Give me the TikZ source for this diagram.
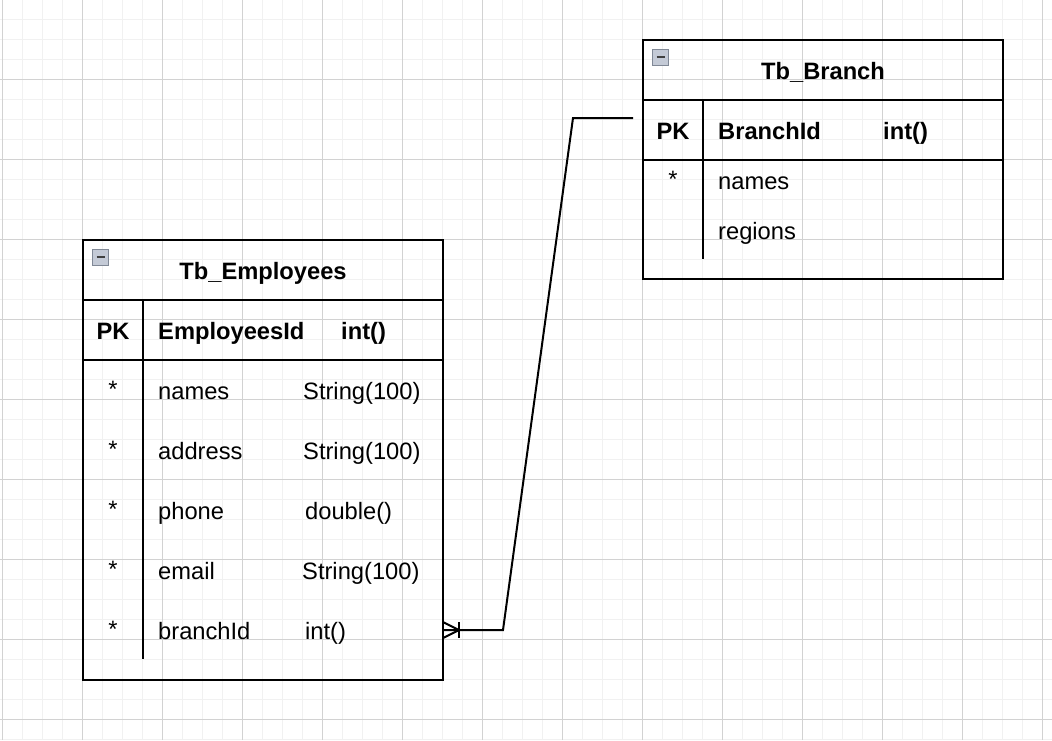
\documentclass[tikz,border=0pt]{standalone}
\usepackage{fontspec}
\setmainfont{Liberation Sans}
\usetikzlibrary{positioning}

\definecolor{gridlight}{RGB}{241,241,241}
\definecolor{griddark}{RGB}{210,210,210}
\definecolor{iconfill}{RGB}{196,202,214}
\definecolor{iconedge}{RGB}{128,136,150}

\tikzset{
  tablebox/.style={draw,line width=2pt,inner sep=0pt,outer sep=0pt,anchor=north west},
  rule/.style={line width=2pt},
  link/.style={line width=2pt,line join=miter},
  collapse/.style={draw=iconedge,fill=iconfill,line width=1pt,minimum size=16pt,inner sep=0pt,
    path picture={\draw[line width=2pt,black!75]
      ([xshift=4pt]path picture bounding box.west) -- ([xshift=-4pt]path picture bounding box.east);}},
}

\begin{document}
\begin{tikzpicture}[x=1pt,y=-1pt]
  \useasboundingbox (0,0) rectangle (1052,740);

  % background grid
  \begin{scope}[line width=1pt]
    \foreach \x in {2,22,...,1042} \draw[gridlight] (\x,0) -- (\x,740);
    \foreach \y in {19,39,...,739} \draw[gridlight] (0,\y) -- (1052,\y);
    \foreach \x in {2,82,...,1042} \draw[griddark] (\x,0) -- (\x,740);
    \foreach \y in {79,159,...,719} \draw[griddark] (0,\y) -- (1052,\y);
  \end{scope}

  % tables
  \node[tablebox,minimum width=360pt,minimum height=440pt] (emp) at (83,240) {};
  \node[tablebox,minimum width=360pt,minimum height=239pt] (br) at (643,40) {};

  \draw[rule] ([yshift=-60pt]emp.north west) -- ([yshift=-60pt]emp.north east);
  \draw[rule] ([yshift=-120pt]emp.north west) -- ([yshift=-120pt]emp.north east);
  \draw[rule] ([xshift=60pt,yshift=-60pt]emp.north west) -- ([xshift=60pt,yshift=-419pt]emp.north west);

  \draw[rule] ([yshift=-60pt]br.north west) -- ([yshift=-60pt]br.north east);
  \draw[rule] ([yshift=-120pt]br.north west) -- ([yshift=-120pt]br.north east);
  \draw[rule] ([xshift=60pt,yshift=-60pt]br.north west) -- ([xshift=60pt,yshift=-219pt]br.north west);

  \node[collapse] (empIcon) at ([xshift=17.5pt,yshift=-17pt]emp.north west) {};
  \node[collapse] (brIcon) at ([xshift=17.5pt,yshift=-17pt]br.north west) {};

  % bold texts: titles and key rows
  \begin{scope}[every node/.style={font=\fontsize{23.7}{28}\selectfont\bfseries,inner sep=0pt,anchor=base}]
    \node (empTitle) at (263,279) {Tb\_Employees};
    \node (empPk)    at (113,339) {PK};
    \node[anchor=base west] (empId)  at (158,339) {EmployeesId};
    \node[anchor=base west] (empIdT) at (341,339) {int()};

    \node (brTitle) at (823,79) {Tb\_Branch};
    \node (brPk)    at (673,139) {PK};
    \node[anchor=base west] (brId)  at (718,139) {BranchId};
    \node[anchor=base west] (brIdT) at (883,139) {int()};
  \end{scope}

  % column rows
  \begin{scope}[every node/.style={font=\fontsize{23.7}{28}\selectfont,inner sep=0pt,anchor=base west}]
    \node[anchor=base] (s1) at (113,397) {*};
    \node[anchor=base] (s2) at (113,457) {*};
    \node[anchor=base] (s3) at (113,517) {*};
    \node[anchor=base] (s4) at (113,577) {*};
    \node[anchor=base] (s5) at (113,637) {*};
    \node (c1) at (158,399) {names};
    \node (c2) at (158,459) {address};
    \node (c3) at (158,519) {phone};
    \node (c4) at (158,579) {email};
    \node (c5) at (158,639) {branchId};
    \node (t1) at (303,399) {String(100)};
    \node (t2) at (303,459) {String(100)};
    \node (t3) at (305,519) {double()};
    \node (t4) at (302,579) {String(100)};
    \node (t5) at (305,639) {int()};

    \node[anchor=base] (s6) at (673,187) {*};
    \node (c6) at (718,189) {names};
    \node (c7) at (718,239) {regions};
  \end{scope}

  % relation branchId -> BranchId
  \coordinate (fk) at (emp.east |- 0,630);
  \coordinate (pk) at ([xshift=-10pt]br.west |- 0,118);
  \draw[link] (fk) -- ++(60,0) -- (573,118) -- (pk);
  \draw[link] ([yshift=8pt]fk) -- ([xshift=16pt]fk) -- ([yshift=-8pt]fk);
  \draw[link] ([xshift=16pt,yshift=8pt]fk) -- ([xshift=16pt,yshift=-8pt]fk);

\end{tikzpicture}
\end{document}
